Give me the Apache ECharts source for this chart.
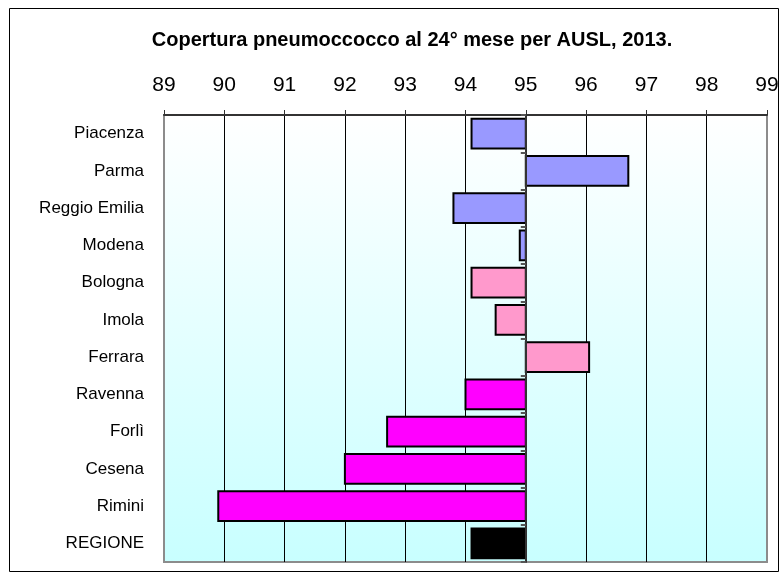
<!DOCTYPE html>
<html>
<head>
<meta charset="utf-8">
<script src="https://cdn.jsdelivr.net/npm/echarts@6/dist/echarts.min.js"></script>
<style>html,body{margin:0;padding:0;background:#fff}#c{width:782px;height:576px}</style>
</head>
<body>
<div id="c"></div>
<script>
const titleText = 'Copertura pneumoccocco al 24° mese per AUSL, 2013.';
const categories = ['Piacenza','Parma','Reggio Emilia','Modena','Bologna','Imola','Ferrara','Ravenna','Forlì','Cesena','Rimini','REGIONE'];
const values = [94.1, 96.7, 93.8, 94.9, 94.1, 94.5, 96.05, 94.0, 92.7, 92.0, 89.9, 94.1];
const baseline = 95;
const axisMin = 89, axisMax = 99, axisStep = 1;
const barColors = ['#9999ff','#9999ff','#9999ff','#9999ff','#ff99cc','#ff99cc','#ff99cc','#ff00ff','#ff00ff','#ff00ff','#ff00ff','#000000'];

const chart = echarts.init(document.getElementById('c'), null, {renderer:'canvas'});
const gridLeft = 164, gridRight = 15, gridTop = 115, gridBottom = 14;
const gridW = 782 - gridLeft - gridRight;
const splitColors = [];
for (let v = axisMin; v <= axisMax; v += axisStep) splitColors.push((v === axisMin || v === axisMax) ? '#8c8c8c' : '#000000');

chart.setOption({
  animation: false,
  title: {
    text: titleText, left: 407, top: 25, textAlign: 'center',
    textStyle: {fontFamily: 'Liberation Sans, Arial, sans-serif', fontSize: 20, fontWeight: 'bold', color: '#000'}
  },
  graphic: [{type:'rect', shape:{x:9.5,y:8.5,width:769,height:563}, style:{fill:'none', stroke:'#000', lineWidth:1}, z:-10}],
  grid: {
    left: gridLeft, right: gridRight, top: gridTop, bottom: gridBottom, show: true,
    borderColor: '#8c8c8c', borderWidth: 2,
    backgroundColor: new echarts.graphic.LinearGradient(0,0,0,1,[{offset:0,color:'#ffffff'},{offset:1,color:'#c8ffff'}])
  },
  xAxis: {
    type: 'value', position: 'top', min: axisMin, max: axisMax, interval: axisStep,
    axisLine: {show: true, lineStyle: {color: '#333', width: 2}},
    axisTick: {show: true, length: 5, lineStyle: {color: '#333'}},
    axisLabel: {fontFamily: 'Liberation Sans, Arial, sans-serif', fontSize: 21, color: '#000', margin: 19},
    splitLine: {show: true, lineStyle: {color: splitColors, width: 1}}
  },
  yAxis: [{
    type: 'category', data: categories, inverse: true,
    axisLine: {show: false}, axisTick: {show: false},
    axisLabel: {fontFamily: 'Liberation Sans, Arial, sans-serif', fontSize: 17, color: '#000', margin: 20}
  },{
    type: 'category', data: categories, inverse: true, position: 'left',
    offset: -gridW * (baseline - axisMin) / (axisMax - axisMin),
    axisLine: {show: true, lineStyle: {color: '#333', width: 2}},
    axisTick: {show: true, length: 5, lineStyle: {color: '#555', width: 2}},
    axisLabel: {show: false}, z: 5
  }],
  series: [{
    type: 'custom',
    encode: {x: 0, y: 1},
    data: values.map((v, i) => [v, i]),
    renderItem: function (params, api) {
      const v = api.value(0), i = api.value(1);
      const p0 = api.coord([baseline, i]);
      const p1 = api.coord([v, i]);
      const h = api.size([0, 1])[1] * 0.8;
      return {
        type: 'rect',
        shape: {x: Math.min(p0[0], p1[0]), y: p0[1] - h / 2, width: Math.abs(p1[0] - p0[0]), height: h},
        style: {fill: barColors[params.dataIndex], stroke: '#000', lineWidth: 2}
      };
    }
  }]
});
</script>
</body>
</html>
